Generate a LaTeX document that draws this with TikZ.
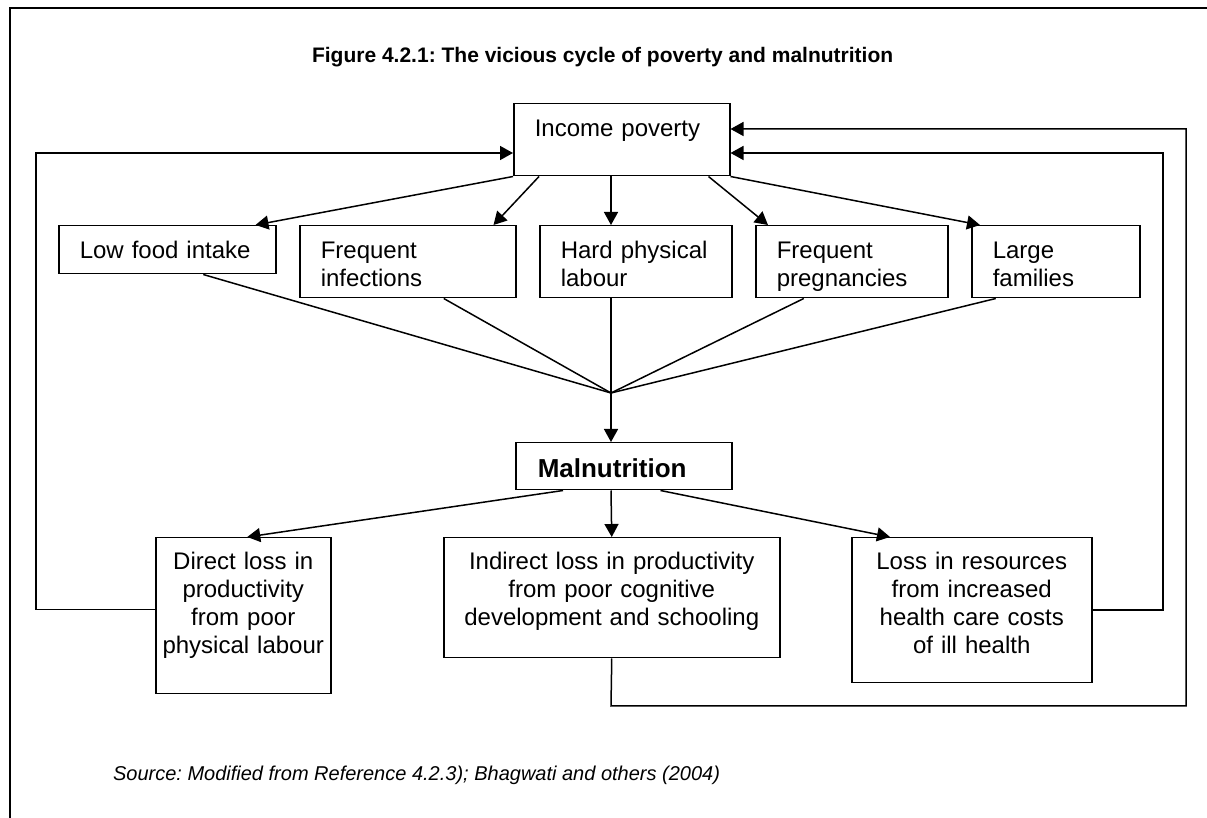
\documentclass[tikz,border=0pt]{standalone}
\usepackage{fontspec}
\setmainfont{Liberation Sans}
\frenchspacing
\usetikzlibrary{arrows.meta, calc, positioning}

\begin{document}
\begin{tikzpicture}[x=0.5pt, y=-0.5pt,
    every node/.style={font=\fontsize{12}{14}\selectfont},
    box/.style={draw, line width=0.75pt, anchor=north west, inner ysep=0pt},
    cause/.style={box, inner xsep=10.5pt, align=left, text height=16.5pt, text depth=19.5pt},
    loss/.style={box, inner xsep=2pt, align=center, text height=16pt},
    flow/.style={line width=0.75pt, -{Triangle[length=6.5pt, width=7pt]}},
    wire/.style={line width=0.75pt}]
  \useasboundingbox (0,0) rectangle (1207,818);
  % frame
  \draw [line width=1pt] (10,818) -- (10,8) -- (1207,8);

  \node [anchor=base west, font=\fontsize{10.5}{12.6}\selectfont\bfseries] (title) at (305,63) {Figure 4.2.1: The vicious cycle of poverty and malnutrition};

  % causes
  \node [cause, text width=87pt] (poverty) at (513,103) {Income poverty};
  \node [cause, text width=87.5pt, text depth=7.5pt] (food) at (58,225) {Low food intake};
  \node [cause, text width=87pt] (infect) at (299,225) {Frequent\\infections};
  \node [cause, text width=75pt] (labour) at (539,225) {Hard physical\\labour};
  \node [cause, text width=75pt] (pregnant) at (755,225) {Frequent\\pregnancies};
  \node [cause, text width=63pt] (family) at (971,225) {Large\\families};

  \coordinate (hub) at (611,393);

  \draw [flow] (poverty.south west) -- ([xshift=-10.5pt]food.north east);
  \draw [flow] ([xshift=13pt]poverty.south west) -- ([xshift=-11.5pt]infect.north east);
  \draw [flow] (poverty.south -| hub) -- (labour.north -| hub);
  \draw [flow] ([xshift=-11pt]poverty.south east) -- ([xshift=6.5pt]pregnant.north west);
  \draw [flow] (poverty.south east) -- ([xshift=4.5pt]family.north west);

  \draw [wire] ([xshift=18pt]food.south) -- (hub);
  \draw [wire] ([xshift=18pt]infect.south) -- (hub);
  \draw [wire] (labour.south -| hub) -- (hub);
  \draw [wire] ([xshift=-24pt]pregnant.south) -- (hub);
  \draw [wire] ([xshift=-30pt]family.south) -- (hub);

  % malnutrition
  \node [box, inner xsep=11pt, align=left, text width=86pt, text height=17.35pt, text depth=6.15pt,
         font=\fontsize{13}{15.6}\selectfont\bfseries] (malnut) at (515,442) {Malnutrition};
  \draw [flow] (hub) -- (malnut.north -| hub);

  % losses
  \node [loss, text width=83.5pt, text depth=62pt] (direct) at (155,537) {Direct loss in\\productivity\\from poor\\physical labour};
  \node [loss, text width=164pt, text depth=44pt] (indirect) at (443,537) {Indirect loss in productivity\\from poor cognitive\\development and schooling};
  \node [loss, text width=116pt, text depth=56.5pt] (costs) at (851,537) {Loss in resources\\from increased\\health care costs\\of ill health};

  \draw [flow] ([xshift=24pt]malnut.south west) -- ([xshift=2pt]direct.north);
  \draw [flow] (malnut.south -| hub) -- (indirect.north);
  \draw [flow] ([xshift=-36pt]malnut.south east) -- ([xshift=19.5pt]costs.north west);

  % feedback loops
  \coordinate (leftup) at (36,153);
  \coordinate (rightup) at (1163,153);
  \coordinate (outerup) at (1186,129);
  \coordinate (outerdown) at (611,706);
  \draw [flow] ([yshift=3pt]direct.west) -| (leftup) -- (poverty.west |- leftup);
  \draw [flow] (costs.east) -| (rightup) -- (poverty.east |- rightup);
  \draw [flow] (indirect.south) -- (outerdown) -| (outerup) -- (poverty.east |- outerup);

  \node [anchor=base west, font=\fontsize{10}{12}\selectfont\itshape] (source) at (106,780) {Source: Modified from Reference 4.2.3); Bhagwati and others (2004)};
\end{tikzpicture}
\end{document}
